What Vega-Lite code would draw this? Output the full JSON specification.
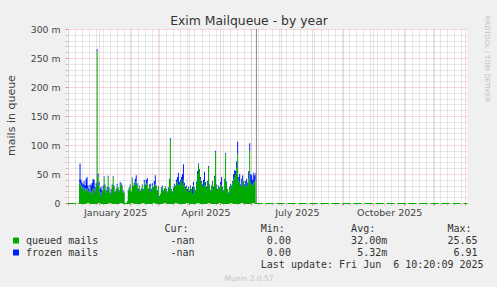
{
  "$schema": "https://vega.github.io/schema/vega-lite/v6.json",
  "width": 400,
  "height": 174,
  "autosize": {"type": "none"},
  "padding": {"left": 67, "top": 29, "right": 30, "bottom": 84},
  "background": "#f0f0f0",
  "config": {
    "view": {"stroke": null, "fill": "#ffffff"},
    "axis": {"labelFont": "DejaVu Sans", "titleFont": "DejaVu Sans", "labelColor": "#444444", "titleColor": "#444444", "titleFontWeight": "normal"}
  },
  "data": {"values": [
    {"d":"2024-12-12","q":0.037,"f":0.003},{"d":"2024-12-13","q":0.034,"f":0.034},{"d":"2024-12-14","q":0.030,"f":0.010},{"d":"2024-12-15","q":0.025,"f":0.010},
    {"d":"2024-12-16","q":0.028,"f":0.004},{"d":"2024-12-17","q":0.022,"f":0.016},{"d":"2024-12-18","q":0.026,"f":0.004},{"d":"2024-12-19","q":0.020,"f":0.022},
    {"d":"2024-12-20","q":0.025,"f":0.020},{"d":"2024-12-21","q":0.022,"f":0.008},{"d":"2024-12-22","q":0.018,"f":0.006},{"d":"2024-12-23","q":0.028,"f":0.004},
    {"d":"2024-12-24","q":0.020,"f":0.010},{"d":"2024-12-25","q":0.015,"f":0.020},{"d":"2024-12-26","q":0.024,"f":0.018},{"d":"2024-12-27","q":0.026,"f":0.014},
    {"d":"2024-12-28","q":0.020,"f":0.007},{"d":"2024-12-29","q":0.030,"f":0.004},{"d":"2024-12-30","q":0.262,"f":0.003},{"d":"2024-12-31","q":0.045,"f":0.006},
    {"d":"2025-01-01","q":0.030,"f":0.006},{"d":"2025-01-02","q":0.018,"f":0.007},{"d":"2025-01-03","q":0.012,"f":0.016},{"d":"2025-01-04","q":0.020,"f":0.002},
    {"d":"2025-01-05","q":0.025,"f":0.005},{"d":"2025-01-06","q":0.045,"f":0.001},{"d":"2025-01-07","q":0.030,"f":0.002},{"d":"2025-01-08","q":0.018,"f":0.004},
    {"d":"2025-01-09","q":0.022,"f":0.006},{"d":"2025-01-10","q":0.045,"f":0.002},{"d":"2025-01-11","q":0.025,"f":0.002},{"d":"2025-01-12","q":0.015,"f":0.003},
    {"d":"2025-01-13","q":0.020,"f":0.004},{"d":"2025-01-14","q":0.030,"f":0.002},{"d":"2025-01-15","q":0.045,"f":0.001},{"d":"2025-01-16","q":0.028,"f":0.002},
    {"d":"2025-01-17","q":0.018,"f":0.002},{"d":"2025-01-18","q":0.022,"f":0.003},{"d":"2025-01-19","q":0.031,"f":0.002},{"d":"2025-01-20","q":0.025,"f":0.002},
    {"d":"2025-01-21","q":0.020,"f":0.002},{"d":"2025-01-22","q":0.034,"f":0.002},{"d":"2025-01-23","q":0.030,"f":0.004},{"d":"2025-01-24","q":0.028,"f":0.002},
    {"d":"2025-01-25","q":0.020,"f":0.002},{"d":"2025-01-26","q":0.017,"f":0.001},{"d":"2025-01-27","q":0,"f":0},{"d":"2025-01-28","q":0,"f":0},
    {"d":"2025-01-29","q":0.003,"f":0},{"d":"2025-01-30","q":0.022,"f":0.001},{"d":"2025-01-31","q":0.025,"f":0.002},{"d":"2025-02-01","q":0.030,"f":0.002},
    {"d":"2025-02-02","q":0.018,"f":0.002},{"d":"2025-02-03","q":0.042,"f":0.002},{"d":"2025-02-04","q":0.028,"f":0.002},{"d":"2025-02-05","q":0.032,"f":0.003},
    {"d":"2025-02-06","q":0.034,"f":0.008},{"d":"2025-02-07","q":0.038,"f":0.010},{"d":"2025-02-08","q":0.030,"f":0.004},{"d":"2025-02-09","q":0.022,"f":0.003},
    {"d":"2025-02-10","q":0.028,"f":0.002},{"d":"2025-02-11","q":0.020,"f":0.002},{"d":"2025-02-12","q":0.025,"f":0.001},{"d":"2025-02-13","q":0.030,"f":0.002},
    {"d":"2025-02-14","q":0.022,"f":0.002},{"d":"2025-02-15","q":0.035,"f":0.005},{"d":"2025-02-16","q":0.028,"f":0.004},{"d":"2025-02-17","q":0.032,"f":0.008},
    {"d":"2025-02-18","q":0.035,"f":0.008},{"d":"2025-02-19","q":0.022,"f":0.003},{"d":"2025-02-20","q":0.030,"f":0.002},{"d":"2025-02-21","q":0.028,"f":0.005},
    {"d":"2025-02-22","q":0.020,"f":0.004},{"d":"2025-02-23","q":0.030,"f":0.004},{"d":"2025-02-24","q":0.025,"f":0.003},{"d":"2025-02-25","q":0.030,"f":0.008},
    {"d":"2025-02-26","q":0.032,"f":0.016},{"d":"2025-02-27","q":0.028,"f":0.002},{"d":"2025-02-28","q":0.020,"f":0.002},{"d":"2025-03-01","q":0.028,"f":0.001},
    {"d":"2025-03-02","q":0.010,"f":0.002},{"d":"2025-03-03","q":0.015,"f":0.001},{"d":"2025-03-04","q":0.025,"f":0.002},{"d":"2025-03-05","q":0.028,"f":0.002},
    {"d":"2025-03-06","q":0.020,"f":0.002},{"d":"2025-03-07","q":0.025,"f":0.001},{"d":"2025-03-08","q":0.028,"f":0.001},{"d":"2025-03-09","q":0.022,"f":0.002},
    {"d":"2025-03-10","q":0.018,"f":0.002},{"d":"2025-03-11","q":0.025,"f":0.002},{"d":"2025-03-12","q":0.040,"f":0.002},{"d":"2025-03-13","q":0.110,"f":0.002},
    {"d":"2025-03-14","q":0.022,"f":0.002},{"d":"2025-03-15","q":0.018,"f":0.002},{"d":"2025-03-16","q":0.025,"f":0.002},{"d":"2025-03-17","q":0.030,"f":0.003},
    {"d":"2025-03-18","q":0.028,"f":0.002},{"d":"2025-03-19","q":0.035,"f":0.005},{"d":"2025-03-20","q":0.038,"f":0.007},{"d":"2025-03-21","q":0.030,"f":0.022},
    {"d":"2025-03-22","q":0.032,"f":0.004},{"d":"2025-03-23","q":0.035,"f":0.005},{"d":"2025-03-24","q":0.040,"f":0.005},{"d":"2025-03-25","q":0.030,"f":0.020},
    {"d":"2025-03-26","q":0.040,"f":0.027},{"d":"2025-03-27","q":0.030,"f":0.005},{"d":"2025-03-28","q":0.025,"f":0.003},{"d":"2025-03-29","q":0.028,"f":0.002},
    {"d":"2025-03-30","q":0.020,"f":0.004},{"d":"2025-03-31","q":0.025,"f":0.003},{"d":"2025-04-01","q":0.018,"f":0.004},{"d":"2025-04-02","q":0.028,"f":0.002},
    {"d":"2025-04-03","q":0.022,"f":0.002},{"d":"2025-04-04","q":0.015,"f":0.013},{"d":"2025-04-05","q":0.030,"f":0.006},{"d":"2025-04-06","q":0.025,"f":0.002},
    {"d":"2025-04-07","q":0.020,"f":0.002},{"d":"2025-04-08","q":0.035,"f":0.002},{"d":"2025-04-09","q":0.050,"f":0.005},{"d":"2025-04-10","q":0.066,"f":0.002},
    {"d":"2025-04-11","q":0.055,"f":0.003},{"d":"2025-04-12","q":0.040,"f":0.005},{"d":"2025-04-13","q":0.035,"f":0.003},{"d":"2025-04-14","q":0.028,"f":0.004},
    {"d":"2025-04-15","q":0.030,"f":0.010},{"d":"2025-04-16","q":0.038,"f":0.016},{"d":"2025-04-17","q":0.030,"f":0.006},{"d":"2025-04-18","q":0.025,"f":0.003},
    {"d":"2025-04-19","q":0.035,"f":0.003},{"d":"2025-04-20","q":0.062,"f":0.002},{"d":"2025-04-21","q":0.030,"f":0.002},{"d":"2025-04-22","q":0.020,"f":0.002},
    {"d":"2025-04-23","q":0.028,"f":0.002},{"d":"2025-04-24","q":0.035,"f":0.003},{"d":"2025-04-25","q":0.025,"f":0.003},{"d":"2025-04-26","q":0.045,"f":0.002},
    {"d":"2025-04-27","q":0.088,"f":0.002},{"d":"2025-04-28","q":0.030,"f":0.002},{"d":"2025-04-29","q":0.022,"f":0.002},{"d":"2025-04-30","q":0.028,"f":0.002},
    {"d":"2025-05-01","q":0.025,"f":0.002},{"d":"2025-05-02","q":0.032,"f":0.004},{"d":"2025-05-03","q":0.030,"f":0.015},{"d":"2025-05-04","q":0.025,"f":0.003},
    {"d":"2025-05-05","q":0.020,"f":0.002},{"d":"2025-05-06","q":0.040,"f":0.002},{"d":"2025-05-07","q":0.084,"f":0.002},{"d":"2025-05-08","q":0.035,"f":0.002},
    {"d":"2025-05-09","q":0.022,"f":0.002},{"d":"2025-05-10","q":0.015,"f":0.003},{"d":"2025-05-11","q":0.025,"f":0.003},{"d":"2025-05-12","q":0.030,"f":0.003},
    {"d":"2025-05-13","q":0.028,"f":0.002},{"d":"2025-05-14","q":0.035,"f":0.003},{"d":"2025-05-15","q":0.040,"f":0.010},{"d":"2025-05-16","q":0.045,"f":0.012},
    {"d":"2025-05-17","q":0.050,"f":0.005},{"d":"2025-05-18","q":0.060,"f":0.012},{"d":"2025-05-19","q":0.085,"f":0.021},{"d":"2025-05-20","q":0.040,"f":0.005},
    {"d":"2025-05-21","q":0.035,"f":0.015},{"d":"2025-05-22","q":0.028,"f":0.004},{"d":"2025-05-23","q":0.030,"f":0.012},{"d":"2025-05-24","q":0.040,"f":0.008},
    {"d":"2025-05-25","q":0.035,"f":0.003},{"d":"2025-05-26","q":0.028,"f":0.004},{"d":"2025-05-27","q":0.030,"f":0.008},{"d":"2025-05-28","q":0.035,"f":0.007},
    {"d":"2025-05-29","q":0.028,"f":0.007},{"d":"2025-05-30","q":0.040,"f":0.015},{"d":"2025-05-31","q":0.090,"f":0.013},{"d":"2025-06-01","q":0.035,"f":0.015},
    {"d":"2025-06-02","q":0.032,"f":0.016},{"d":"2025-06-03","q":0.030,"f":0.010},{"d":"2025-06-04","q":0.035,"f":0.017},{"d":"2025-06-05","q":0.038,"f":0.010},
    {"d":"2025-06-06","q":0.040,"f":0.012}
  ]},
  "resolve": {"axis": {"x": "independent", "y": "independent"}},
  "layer": [
    {
      "mark": {"type": "point", "opacity": 0},
      "encoding": {
        "x": {"field": "d", "type": "temporal",
          "scale": {"type": "utc", "domain": [{"year": 2024, "month": 11, "date": 30, "utc": true}, {"year": 2026, "month": 1, "date": 2, "hours": 12, "utc": true}]},
          "axis": {"orient": "bottom", "title": null, "labels": false, "domain": false, "grid": true, "gridColor": "#8f8f8f", "gridOpacity": 0.4, "gridDash": [1, 1], "ticks": true, "tickSize": 2, "tickColor": "#c0c0c0", "tickCount": {"interval": "week", "step": 1}, "zindex": 0}},
        "y": {"field": "q", "type": "quantitative",
          "scale": {"domain": [0, 0.3], "nice": false},
          "axis": {"orient": "left", "title": null, "labels": false, "domain": false, "grid": true, "gridColor": "#8f8f8f", "gridOpacity": 0.4, "gridDash": [1, 1], "ticks": true, "tickSize": 2, "tickColor": "#c0c0c0",
            "values": [0.01, 0.02, 0.03, 0.04, 0.06, 0.07, 0.08, 0.09, 0.11, 0.12, 0.13, 0.14, 0.16, 0.17, 0.18, 0.19, 0.21, 0.22, 0.23, 0.24, 0.26, 0.27, 0.28, 0.29], "zindex": 0}}
      }
    },
    {
      "mark": {"type": "point", "opacity": 0},
      "encoding": {
        "x": {"field": "d", "type": "temporal",
          "scale": {"type": "utc", "domain": [{"year": 2024, "month": 11, "date": 30, "utc": true}, {"year": 2026, "month": 1, "date": 2, "hours": 12, "utc": true}]},
          "axis": {"orient": "bottom", "title": null, "labels": false, "domain": false, "grid": true, "gridColor": "#de5050", "gridOpacity": 0.45, "gridDash": [1, 1], "ticks": true, "tickSize": 2, "tickColor": "#e08080", "tickCount": {"interval": "month", "step": 1}, "zindex": 0}},
        "y": {"field": "q", "type": "quantitative",
          "scale": {"domain": [0, 0.3], "nice": false},
          "axis": {"orient": "left", "values": [0, 0.05, 0.1, 0.15, 0.2, 0.25, 0.3], "labelExpr": "datum.value == 0 ? '0' : format(datum.value * 1000, 'd') + ' m'",
            "labelFontSize": 9.3, "labelPadding": 5, "domain": false, "grid": true, "gridColor": "#de5050", "gridOpacity": 0.45, "gridDash": [1, 1], "ticks": true, "tickSize": 2, "tickColor": "#e08080",
            "title": "mails in queue", "titleFontSize": 11, "titleAngle": -90, "titleX": -52.5, "titleY": 86, "titleAlign": "center", "titleBaseline": "alphabetic", "zindex": 0}}
      }
    },
    {
      "transform": [{"fold": ["q", "f"], "as": ["s", "v"]}],
      "mark": {"type": "area", "interpolate": "step", "opacity": 1},
      "encoding": {
        "x": {"field": "d", "type": "temporal",
          "scale": {"type": "utc", "domain": [{"year": 2024, "month": 11, "date": 30, "utc": true}, {"year": 2026, "month": 1, "date": 2, "hours": 12, "utc": true}]},
          "axis": {"orient": "bottom", "values": [{"year": 2025, "month": 1, "date": 17, "utc": true}, {"year": 2025, "month": 4, "date": 17, "utc": true}, {"year": 2025, "month": 7, "date": 17, "utc": true}, {"year": 2025, "month": 10, "date": 17, "utc": true}],
            "format": "%B %Y", "labelFontSize": 9.5, "labelPadding": 4, "ticks": false, "tickSize": 0, "grid": false, "labelFlush": false, "labelOverlap": false,
            "domain": true, "domainColor": "#00aa00", "domainDash": [8, 3], "domainWidth": 1,
            "title": "Munin 2.0.57", "titleX": 181.5, "titleY": 77, "titleAlign": "center", "titleBaseline": "alphabetic", "titleFontSize": 7.5, "titleColor": "#c4c4c4", "zindex": 1}},
        "y": {"field": "v", "type": "quantitative", "stack": "zero",
          "scale": {"domain": [0, 0.3], "nice": false},
          "axis": {"orient": "right", "title": "RRDTOOL / TOBI OETIKER", "titleAngle": 90, "titleX": 17, "titleY": 29.4, "titleAlign": "center", "titleBaseline": "alphabetic", "titleFontSize": 6.7, "titleColor": "#c0c0c0", "labels": false, "ticks": false, "domain": false, "grid": false}},
        "color": {"field": "s", "type": "nominal",
          "scale": {"domain": ["h", "q", "f", "u"], "range": ["transparent", "#00aa00", "#0022ff", "transparent"]},
          "legend": {"orient": "none", "legendX": -56, "legendY": 194.5, "direction": "vertical", "title": null, "padding": 0,
            "symbolType": "square", "symbolSize": 36, "symbolStrokeWidth": 0, "symbolOpacity": 1,
            "labelFont": "DejaVu Sans Mono", "labelFontSize": 10, "labelColor": "#333333", "labelLimit": 1000, "labelOffset": 5, "rowPadding": 2,
            "labelExpr": "datum.value == 'h' ? '\u200b' + pad('', 23, '\u00a0') + 'Cur:' + pad('', 12, '\u00a0') + 'Min:' + pad('', 11, '\u00a0') + 'Avg:' + pad('', 12, '\u00a0') + 'Max:' : datum.value == 'q' ? 'queued mails' + pad('', 12, '\u00a0') + '-nan' + pad('', 12, '\u00a0') + '0.00' + pad('', 10, '\u00a0') + '32.00m' + pad('', 10, '\u00a0') + '25.65' : datum.value == 'f' ? 'frozen mails' + pad('', 12, '\u00a0') + '-nan' + pad('', 12, '\u00a0') + '0.00' + pad('', 11, '\u00a0') + '5.32m' + pad('', 11, '\u00a0') + '6.91' : '\u200b' + pad('', 39, '\u00a0') + 'Last update: Fri Jun' + pad('', 2, '\u00a0') + '6 10:20:09 2025'"}},
        "order": {"field": "s", "sort": "descending"}
      }
    },
    {
      "mark": {"type": "point", "opacity": 0},
      "encoding": {
        "x": {"field": "d", "type": "temporal",
          "scale": {"type": "utc", "domain": [{"year": 2024, "month": 11, "date": 30, "utc": true}, {"year": 2026, "month": 1, "date": 2, "hours": 12, "utc": true}]},
          "axis": {"orient": "top", "title": "Exim Mailqueue - by year", "titleX": 181.5, "titleY": -5, "titleAlign": "center", "titleBaseline": "alphabetic", "titleFontSize": 12.4, "titleColor": "#333333", "labels": false, "ticks": false, "domain": false, "grid": false}}
      }
    },
    {
      "data": {"values": [{"d": "2025-06-06T17:00:00Z"}]},
      "mark": {"type": "rule", "color": "#888888", "strokeWidth": 1},
      "encoding": {
        "x": {"field": "d", "type": "temporal",
          "scale": {"type": "utc", "domain": [{"year": 2024, "month": 11, "date": 30, "utc": true}, {"year": 2026, "month": 1, "date": 2, "hours": 12, "utc": true}]},
          "axis": null}
      }
    }
  ]
}
